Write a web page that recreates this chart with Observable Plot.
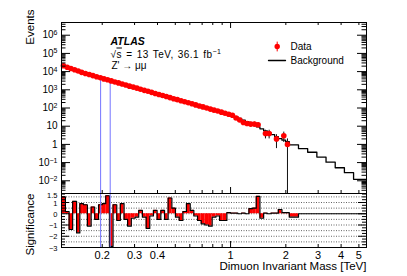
<!DOCTYPE html>
<html><head><meta charset="utf-8">
<script src="https://cdn.jsdelivr.net/npm/d3@7"></script>
<script src="https://cdn.jsdelivr.net/npm/@observablehq/plot@0.6"></script>
<style>
body{margin:0;background:#fff;}
#chart{position:relative;width:407px;height:276px;font-family:"Liberation Sans",Arial,Helvetica,sans-serif;}
#chart svg{position:absolute;left:0;}
</style></head><body><div id="chart"></div>
<script>
// ---- data ----
const massEdges = [0.120,0.126,0.132,0.138,0.145,0.151,0.158,0.166,0.174,0.182,0.191,0.200,0.209,0.219,0.229,0.240,0.251,0.263,0.275,0.288,0.302,0.316,0.331,0.347,0.363,0.380,0.398,0.417,0.437,0.457,0.479,0.501,0.525,0.550,0.575,0.603,0.631,0.661,0.692,0.724,0.759,0.794,0.832,0.871,0.912,0.955,1.000,1.047,1.096,1.148,1.202,1.259,1.318,1.380,1.445,1.514,1.585,1.660,1.738,1.820,1.905,1.995,2.089];
const dataEvents = [20900,17400,14800,12600,10700,9120,7940,6920,6030,5250,4570,3980,3550,3090,2690,2400,2090,1820,1585,1410,1230,1070,933,832,724,631,550,490,427,372,324,288,251,219,195,170,148,129,115,100,87,76,68,59,51,45,40,28,22,16,14,13,13,12,0,4,4,0,2,0,3,1];
const bkgEvents = [20500,17500,14900,12700,10800,9150,7900,6900,6050,5270,4580,3990,3520,3080,2700,2380,2090,1830,1600,1405,1230,1075,940,825,722,632,553,485,425,372,326,286,251,220,193,169,148,130,114,100,87.5,76.7,67.2,58.9,51.6,45.2,39.6,33,26.5,21.5,17.5,14.2,11.5,9.2,7.2,5.6,4.4,3.4,2.7,2.1,1.7,1.4];
const bkgTailEdges = [2.089,2.344,2.630,2.951,3.311,3.715,4.169,4.677,5.5];
const bkgTailEvents = [0.95,0.58,0.37,0.20,0.105,0.052,0.028,0.012];
const significance = [1.5,0.2,-1.4,1.1,-1.7,0.9,0.8,-1.1,0.6,-0.5,0.8,0.9,1.6,-2.9,0.8,-0.6,0.9,-0.5,-1.1,-0.4,-0.3,0.3,-0.3,-1.3,-0.2,0.3,-0.5,0.3,-0.5,1.4,0.5,-0.3,-0.6,0.2,0.9,0.3,-0.2,-0.6,-0.9,-1.0,-1.1,-0.3,-0.2,-0.6,-0.6,0.1,0.05,0.05,0.0,0.05,0.0,0.45,0.5,1.55,-0.4,0.05,0.0,0.05,0.05,0.38,0.1,0.1];
const significanceTail = [-0.3,0,0,0,0,0,0,0];
const blueLineMass = [0.196,0.221];
const blueLineTop = [4000,2900];
const xTickLabels = [0.2,0.3,0.4,1,2,3,4,5];
const xMinorTicks = [0.2,0.3,0.4,0.5,0.6,0.7,0.8,0.9,2,3,4,5];
const xMajorTicks = [1];
const yTickValues = [1e-2,1e-1,1,10,1e2,1e3,1e4,1e5,1e6];
const sigTickLabels = [1.5,1,0,-1,-2,-3];
const sigGrid = [1.5,1,0.5,0,-0.5,-1,-1.5,-2,-2.5];

// ---- layout ----
const W = 407, ML = 61, MR = 41, FW = W - ML - MR;
const H1 = 194, MT1 = 22, MB1 = 1, FH1 = H1 - MT1 - MB1;
const H2 = 84, MT2 = 1, MB2 = 29, FH2 = H2 - MT2 - MB2;
const YMIN = 0.002, YMAX = 5e6;
const FONT = '"Liberation Sans",Arial,Helvetica,sans-serif';

// ---- derived tables ----
const obs = dataEvents.map((n, i) => ({m: Math.sqrt(massEdges[i]*massEdges[i+1]), n,
  lo: Math.max(n - Math.sqrt(n), YMIN), hi: n + Math.sqrt(n)})).filter(d => d.n > 0);
const allEdges = massEdges.concat(bkgTailEdges.slice(1));
const allBkg = bkgEvents.concat(bkgTailEvents);
const allSig = significance.concat(significanceTail);
const bkgStep = allBkg.map((v, i) => ({x: allEdges[i], y: v})).concat([{x: allEdges[allEdges.length-1], y: allBkg[allBkg.length-1]}]);
const sigBins = allSig.map((s, i) => ({lo: allEdges[i], hi: allEdges[i+1], s}));
const sigStep = allSig.map((s, i) => ({x: allEdges[i], y: s})).concat([{x: allEdges[allEdges.length-1], y: allSig[allSig.length-1]}]);
const blue = blueLineMass.map((m, i) => ({m, top: blueLineTop[i]}));
const yMinor = [];
for (let e = -3; e <= 6; e++) for (let k = 2; k <= 9; k++) { const v = k * Math.pow(10, e); if (v > YMIN && v < YMAX) yMinor.push(v); }
const sigMajor = [-3,-2,-1,0,1];
const sigMinor = [];
for (let v = -2.75; v < 1.8; v += 0.25) if (Math.abs(v - Math.round(v)) > 0.01) sigMinor.push(v);
const fmtMinus = d => d < 0 ? "\u2212" + (-d) : String(d);

const lineShape = {draw(context, l) { context.moveTo(0, 0); context.lineTo(0, -l); }};
const tk = {stroke: "black", strokeWidth: 1};

const topPlot = Plot.plot({
  width: W, height: H1, marginTop: MT1, marginBottom: MB1, marginLeft: ML, marginRight: MR,
  style: {background: "none", fontFamily: FONT, overflow: "visible"},
  x: {type: "log", domain: [0.12, 5.5], axis: null},
  y: {type: "log", domain: [YMIN, YMAX], axis: null},
  marks: [
    Plot.line(bkgStep, {x: "x", y: "y", curve: "step-after", stroke: "black", strokeWidth: 1.3}),
    Plot.ruleX(blue, {x: "m", y1: YMIN, y2: "top", stroke: "#7474ff", strokeWidth: 1}),
    Plot.ruleX(obs, {x: "m", y1: "lo", y2: "hi", stroke: "#111", strokeWidth: 1}),
    Plot.dot(obs, {x: "m", y: "n", r: 2.8, fill: "#ff0000", stroke: "none"}),
    Plot.tickY(yTickValues, {y: d => d, insetRight: FW - 9, ...tk}),
    Plot.tickY(yTickValues, {y: d => d, insetLeft: FW - 9, ...tk}),
    Plot.tickY(yMinor, {y: d => d, insetRight: FW - 4.5, ...tk}),
    Plot.tickY(yMinor, {y: d => d, insetLeft: FW - 4.5, ...tk}),
    Plot.tickX(xMinorTicks, {x: d => d, insetBottom: FH1 - 3, ...tk}),
    Plot.tickX(xMajorTicks, {x: d => d, insetBottom: FH1 - 6, ...tk}),
    Plot.tickX(xMinorTicks, {x: d => d, insetTop: FH1 - 3, ...tk}),
    Plot.tickX(xMajorTicks, {x: d => d, insetTop: FH1 - 6, ...tk}),
    Plot.text(yTickValues, {y: d => d, frameAnchor: "left", dx: -4, textAnchor: "end", lineAnchor: "middle", fontSize: 10, fill: "black",
      text: d => { const e = Math.round(Math.log10(d)); return e === 0 ? "1" : e === 1 ? "10" : "10^" + (e < 0 ? "\u2212" + (-e) : e); }}),
    Plot.frame({stroke: "black", strokeWidth: 1}),
    Plot.text(["Events"], {frameAnchor: "top-left", dx: -28, dy: -13, rotate: -90, textAnchor: "end", lineAnchor: "bottom", fontSize: 11.5, fill: "black"}),
    Plot.text(["ATLAS"], {frameAnchor: "top-left", dx: 49, dy: 22, textAnchor: "start", lineAnchor: "bottom", fontSize: 10.5, fontWeight: "bold", fontStyle: "italic", fill: "black"}),
    Plot.text(["SQRTS = 13 TeV, 36.1 fb^\u22121"], {frameAnchor: "top-left", dx: 49, dy: 35, textAnchor: "start", lineAnchor: "bottom", fontSize: 10, fill: "black"}),
    Plot.text(["Z' \u2192 \u03bc\u03bc"], {frameAnchor: "top-left", dx: 50, dy: 46, textAnchor: "start", lineAnchor: "bottom", fontSize: 10, fill: "black"}),
    Plot.vector([0], {frameAnchor: "top-left", dx: 215.7, dy: 24, length: 9, anchor: "middle", rotate: 0, shape: lineShape, stroke: "#ff0000", strokeWidth: 1}),
    Plot.dot([0], {frameAnchor: "top-left", dx: 215.7, dy: 24, r: 2.7, fill: "#ff0000", stroke: "none"}),
    Plot.text(["Data"], {frameAnchor: "top-left", dx: 229, dy: 24, textAnchor: "start", lineAnchor: "middle", fontSize: 10, fill: "black"}),
    Plot.vector([0], {frameAnchor: "top-left", dx: 215.5, dy: 38, length: 17, anchor: "middle", rotate: 90, shape: lineShape, stroke: "black", strokeWidth: 1.3}),
    Plot.text(["Background"], {frameAnchor: "top-left", dx: 229, dy: 38, textAnchor: "start", lineAnchor: "middle", fontSize: 10, fill: "black"})
  ]
});

const bottomPlot = Plot.plot({
  width: W, height: H2, marginTop: MT2, marginBottom: MB2, marginLeft: ML, marginRight: MR,
  style: {background: "none", fontFamily: FONT, overflow: "visible"},
  x: {type: "log", domain: [0.12, 5.5], axis: null},
  y: {domain: [-3, 1.8], axis: null},
  marks: [
    Plot.ruleY(sigGrid, {y: d => d, stroke: "#222", strokeWidth: 0.7, strokeDasharray: "1,1.5"}),
    Plot.rect(sigBins, {x1: "lo", x2: "hi", y1: 0, y2: "s", fill: "#ff0000"}),
    Plot.line(sigStep, {x: "x", y: "y", curve: "step-after", stroke: "black", strokeWidth: 1.2}),
    Plot.ruleX(blueLineMass, {x: d => d, stroke: "#7474ff", strokeWidth: 1}),
    Plot.tickY(sigMajor, {y: d => d, insetRight: FW - 8, ...tk}),
    Plot.tickY(sigMajor, {y: d => d, insetLeft: FW - 8, ...tk}),
    Plot.tickY(sigMinor, {y: d => d, insetRight: FW - 4, ...tk}),
    Plot.tickY(sigMinor, {y: d => d, insetLeft: FW - 4, ...tk}),
    Plot.tickX(xMinorTicks, {x: d => d, insetTop: FH2 - 3, ...tk}),
    Plot.tickX(xMajorTicks, {x: d => d, insetTop: FH2 - 6, ...tk}),
    Plot.text(xTickLabels, {x: d => d, frameAnchor: "bottom", dy: 8, lineAnchor: "middle", fontSize: 11, fill: "black", text: d => String(d)}),
    Plot.text(sigTickLabels.filter(d => d === 1.5), {y: d => d, frameAnchor: "left", dx: -4, dy: -1.2, textAnchor: "end", lineAnchor: "middle", fontSize: 7.5, fill: "black", text: fmtMinus}),
    Plot.text(sigTickLabels.filter(d => d !== 1.5), {y: d => d, frameAnchor: "left", dx: -4, dy: 0.8, textAnchor: "end", lineAnchor: "middle", fontSize: 7.5, fill: "black", text: fmtMinus}),
    Plot.frame({stroke: "black", strokeWidth: 1}),
    Plot.text(["Significance"], {frameAnchor: "top-left", dx: -28, dy: 0, rotate: -90, textAnchor: "end", lineAnchor: "bottom", fontSize: 11.5, fill: "black"}),
    Plot.text(["Dimuon Invariant Mass [TeV]"], {frameAnchor: "bottom-right", dx: 0, dy: 22, textAnchor: "end", lineAnchor: "bottom", fontSize: 11.5, fill: "black"})
  ]
});

// superscripts / sqrt formatting
function fixText(svg) {
  d3.select(svg).selectAll("text").each(function() {
    const t = this.textContent;
    if (this.querySelector("tspan")) return;
    let m = t.match(/^SQRTS(.*)\^(.+)$/);
    if (m) {
      const s = d3.select(this); this.textContent = "";
      s.style("letter-spacing", "0.45px").style("word-spacing", "1px");
      s.append("tspan").text("\u221a");
      s.append("tspan").attr("text-decoration", "overline").text("s");
      s.append("tspan").text(m[1]);
      s.append("tspan").attr("dy", "-0.45em").attr("font-size", "0.7em").text(m[2]);
      return;
    }
    m = t.match(/^(.*)\^(.+)$/);
    if (m) {
      const s = d3.select(this); this.textContent = m[1];
      s.append("tspan").attr("dy", "-0.45em").attr("font-size", "0.7em").text(m[2]);
    }
  });
}
fixText(topPlot); fixText(bottomPlot);
topPlot.style.top = "0px";
bottomPlot.style.top = (H1 - 2) + "px";
const chart = document.getElementById("chart");
chart.appendChild(topPlot);
chart.appendChild(bottomPlot);
</script></body></html>
